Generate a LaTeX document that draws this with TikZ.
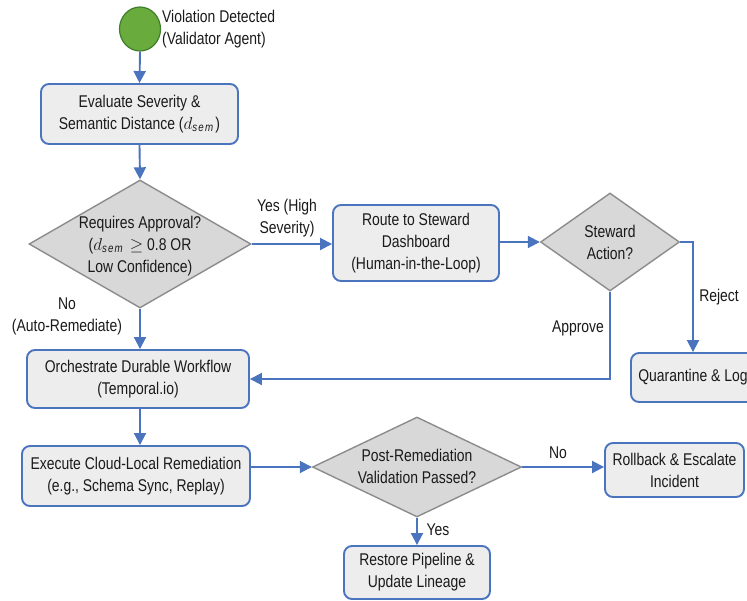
\documentclass[tikz,border=0pt]{standalone}
\usepackage{fontspec}
\setmainfont{Liberation Sans}[FakeStretch=0.82]
\usetikzlibrary{shapes.geometric,arrows.meta}
\definecolor{bblue}{HTML}{4A74BD}
\definecolor{boxfill}{HTML}{EDEDED}
\definecolor{dfill}{HTML}{D8D8D8}
\definecolor{dline}{HTML}{8C8C8C}
\definecolor{gfill}{HTML}{6AAB3E}
\definecolor{gline}{HTML}{3F7F2A}
\definecolor{txt}{HTML}{1A1A1A}
\begin{document}
\begin{tikzpicture}[x=1pt,y=-1pt,
  every node/.style={text=txt},
  font=\fontsize{17}{22}\selectfont,
  procbox/.style={draw=bblue, line width=1.9pt, fill=boxfill, rounded corners=8pt, align=center, inner sep=0pt},
  decision/.style={diamond, draw=dline, line width=1.4pt, fill=dfill, inner sep=0pt},
  dtext/.style={align=center, inner sep=0pt},
  lbl/.style={align=center, inner sep=0pt},
  flow/.style={draw=bblue, line width=1.9pt, -{Triangle[length=12pt,width=12pt]}}
]
\useasboundingbox (0,0) rectangle (747,600);
\fill[white] (0,0) rectangle (747,600);

% start
\node[ellipse, draw=gline, line width=1.2pt, fill=gfill, minimum width=41pt, minimum height=44pt, inner sep=0pt] (start) at (140,29) {};
\node[lbl, align=left, anchor=west] (startlbl) at (162,29) {Violation Detected\\(Validator Agent)};

% boxes
\node[procbox, minimum width=197pt, minimum height=60pt] (eval) at (139.5,114) {Evaluate Severity \&\\Semantic Distance ($d_{\mathit{sem}}$)};

\node[decision, minimum width=222pt, minimum height=128pt] (d1) at (140,244) {};
\node[dtext] (d1t) at (140,246) {Requires Approval?\\($d_{\mathit{sem}} \geq$ 0.8 OR\\Low Confidence)};

\node[procbox, minimum width=166pt, minimum height=76pt] (route) at (416,243) {Route to Steward\\Dashboard\\(Human-in-the-Loop)};

\node[decision, minimum width=139pt, minimum height=98pt] (d2) at (610,242) {};
\node[dtext] (d2t) at (610,242) {Steward\\Action?};

\node[procbox, minimum width=124pt, minimum height=49pt] (quar) at (693,377.5) {Quarantine \& Log};

\node[procbox, minimum width=222pt, minimum height=58pt] (orch) at (138,379) {Orchestrate Durable Workflow\\(Temporal.io)};

\node[procbox, minimum width=228pt, minimum height=60pt] (exec) at (136,476) {Execute Cloud-Local Remediation\\(e.g., Schema Sync, Replay)};

\node[decision, minimum width=209pt, minimum height=100pt] (d3) at (417,467) {};
\node[dtext] (d3t) at (417,466) {Post-Remediation\\Validation Passed?};

\node[procbox, minimum width=139pt, minimum height=54pt] (roll) at (674.5,470) {Rollback \& Escalate\\Incident};

\node[procbox, minimum width=146pt, minimum height=53pt] (rest) at (417,572.5) {Restore Pipeline \&\\Update Lineage};

% connectors
\draw[flow] (start.south) -- (eval.north);
\draw[flow] (eval.south) -- (d1.north);
\draw[flow] (d1.east) -- (d1.east -| route.west);
\node[lbl] (yeshigh) at (287,218) {Yes (High\\Severity)};
\draw[flow] (route.east |- d2.west) -- (d2.west);
\draw[flow] (d2.east) -| (quar.north);
\node[lbl] (reject) at (719,297) {Reject};
\draw[flow] (d2.south) |- (orch.east);
\node[lbl] (approve) at (578,328) {Approve};
\draw[flow] (d1.south) -- (d1.south |- orch.north);
\node[lbl] (nolbl) at (67,316) {No\\(Auto-Remediate)};
\draw[flow] (orch.south -| d1.south) -- (d1.south |- exec.north);
\draw[flow] (exec.east |- d3.west) -- (d3.west);
\draw[flow] (d3.east) -- (d3.east -| roll.west);
\node[lbl] (no2) at (558,453) {No};
\draw[flow] (d3.south) -- (rest.north);
\node[lbl] (yes2) at (438,530) {Yes};
\end{tikzpicture}
\end{document}
